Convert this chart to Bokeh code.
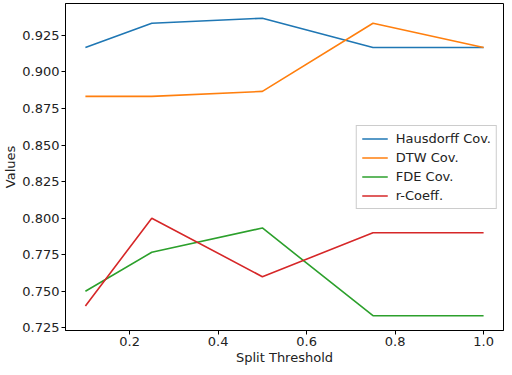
from bokeh.plotting import figure
from bokeh.models import FixedTicker, PrintfTickFormatter, Range1d, Legend, LegendItem
from bokeh.embed import file_html
from bokeh.resources import INLINE

thresholds = [0.1, 0.25, 0.5, 0.75, 1.0]
hausdorff = [0.9167, 0.9333, 0.9367, 0.9167, 0.9167]
dtw = [0.8833, 0.8833, 0.8867, 0.9333, 0.9167]
fde = [0.75, 0.7767, 0.7933, 0.7333, 0.7333]
rcoeff = [0.74, 0.80, 0.76, 0.79, 0.79]

series = [("Hausdorff Cov.", hausdorff, "#1f77b4"),
          ("DTW Cov.", dtw, "#ff7f0e"),
          ("FDE Cov.", fde, "#2ca02c"),
          ("r-Coeff.", rcoeff, "#d62728")]

x_ticks = [0.2, 0.4, 0.6, 0.8, 1.0]
y_ticks = [0.725, 0.75, 0.775, 0.8, 0.825, 0.85, 0.875, 0.9, 0.925]

p = figure(width=504, height=367, output_backend="svg", toolbar_location=None,
           x_range=Range1d(0.055, 1.045), y_range=Range1d(0.7232, 0.9468),
           min_border_left=64, min_border_right=1, min_border_top=3, min_border_bottom=31)

items = []
for name, vals, col in series:
    r = p.line(thresholds, vals, line_color=col, line_width=1.6)
    items.append(LegendItem(label=name, renderers=[r]))

legend = Legend(items=items, location="right")
legend.label_text_font = "DejaVu Sans"
legend.label_text_font_size = "13px"
legend.label_text_color = "#222222"
legend.glyph_width = 26
legend.glyph_height = 13
legend.label_height = 13
legend.spacing = 4
legend.padding = 5
legend.margin = 6
legend.label_standoff = 8
legend.border_line_color = "#cccccc"
legend.border_line_alpha = 1
legend.background_fill_alpha = 0.8
p.add_layout(legend, "center")

p.xgrid.visible = False
p.ygrid.visible = False
p.outline_line_color = "black"
p.outline_line_width = 1

p.xaxis.ticker = FixedTicker(ticks=x_ticks)
p.yaxis.ticker = FixedTicker(ticks=y_ticks)
p.xaxis.formatter = PrintfTickFormatter(format="%.1f")
p.yaxis.formatter = PrintfTickFormatter(format="%.3f")
p.xaxis.axis_label = "Split Threshold"
p.yaxis.axis_label = "Values"

for ax in (p.xaxis[0], p.yaxis[0]):
    ax.major_label_text_font = "DejaVu Sans"
    ax.major_label_text_font_size = "13px"
    ax.major_label_text_color = "#222222"
    ax.axis_label_text_font = "DejaVu Sans"
    ax.axis_label_text_font_size = "13px"
    ax.axis_label_text_font_style = "normal"
    ax.axis_label_text_color = "#222222"
    ax.minor_tick_line_color = None
    ax.major_tick_in = 0
    ax.major_tick_out = 4
    ax.major_tick_line_color = "black"
    ax.axis_line_color = "black"
    ax.major_label_standoff = 2
    ax.axis_label_standoff = 1

open("out.html", "w").write(file_html(p, INLINE))
